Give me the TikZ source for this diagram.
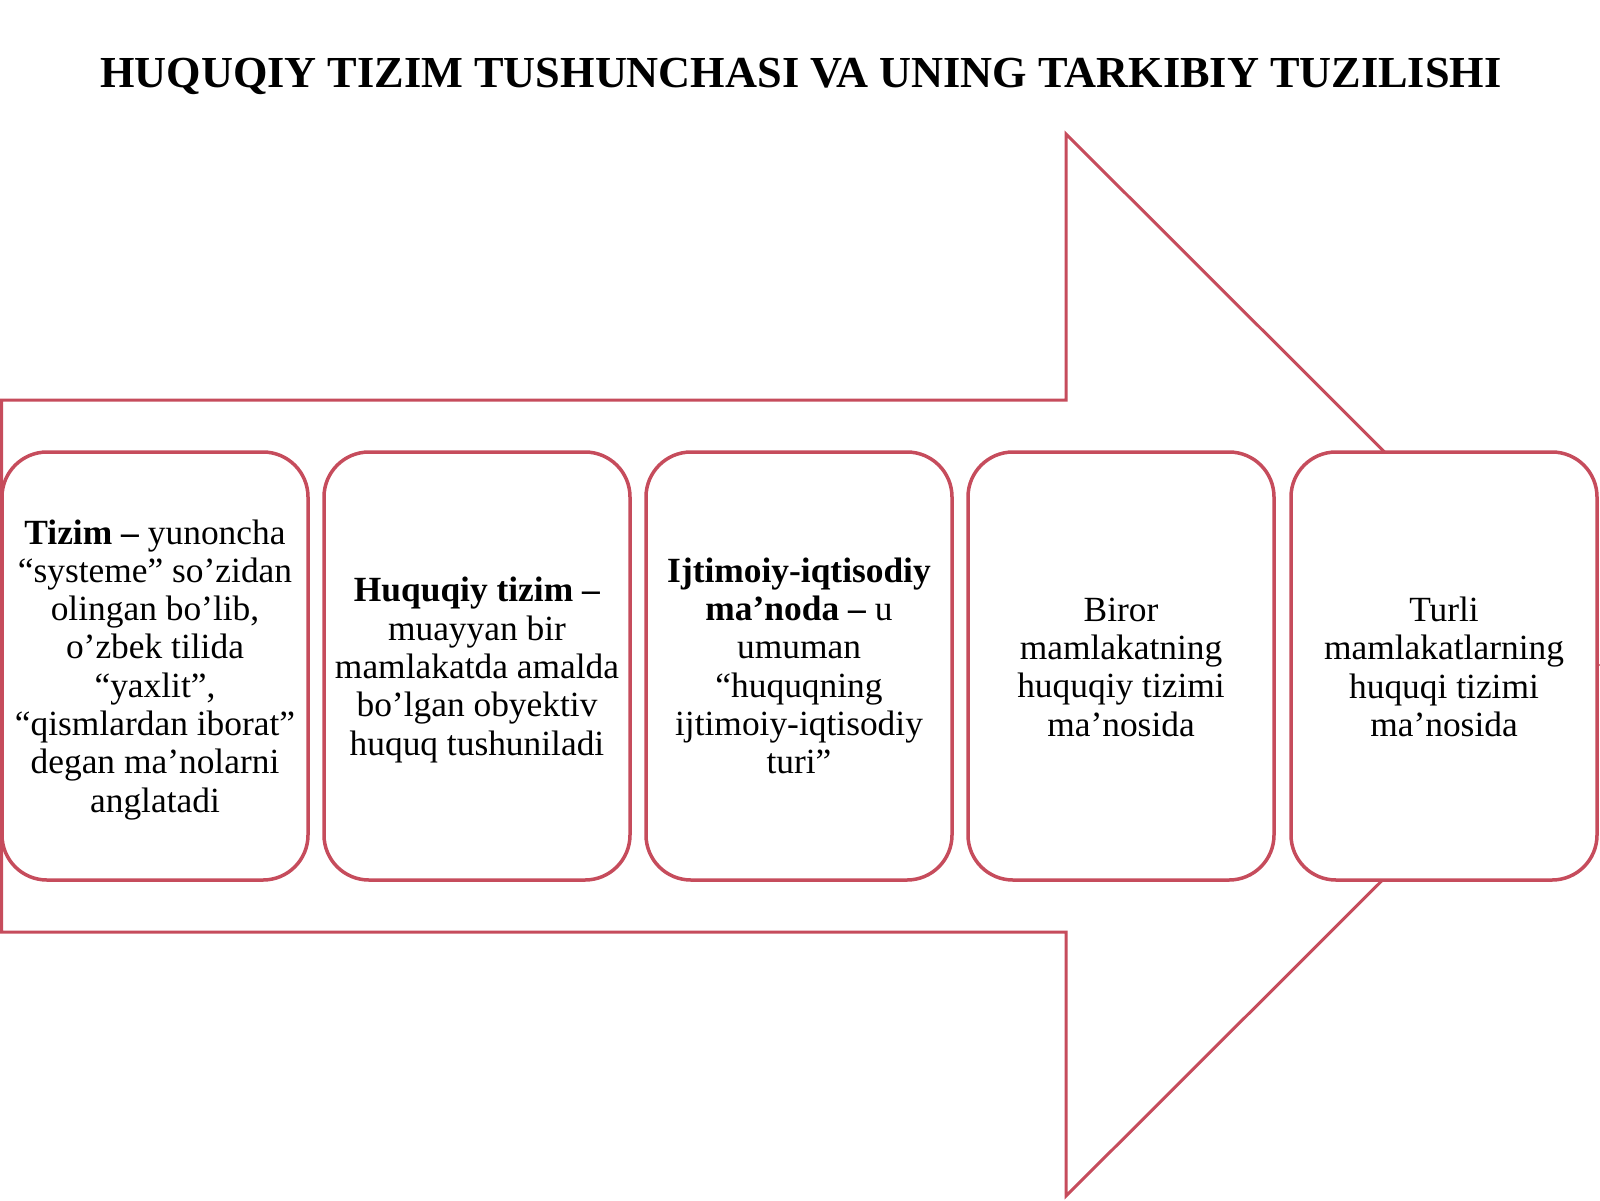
\documentclass[tikz,border=0pt]{standalone}
\usepackage{fontspec}
\setmainfont{Liberation Serif}
\definecolor{arrowred}{RGB}{198,76,92}
\tikzset{
  box/.style={draw=arrowred, line width=3.5pt, fill=white, rounded corners=45pt,
    minimum width=306pt, minimum height=428pt, inner sep=0pt},
  boxtext/.style={align=center, font=\fontsize{35.4}{38.3}\selectfont},
  arrowline/.style={draw=arrowred, line width=3pt, line join=miter}
}
\begin{document}
\begin{tikzpicture}[x=1pt,y=-1pt]
\useasboundingbox (0,0) rectangle (1600,1200);
\fill[white] (0,0) rectangle (1600,1200);
\node[anchor=base, font=\fontsize{44.3}{50}\selectfont\bfseries] (title) at (801,87) {HUQUQIY TIZIM TUSHUNCHASI VA UNING TARKIBIY TUZILISHI};
\coordinate (a1) at (1.5,400);
\coordinate (a2) at (1066,400);
\coordinate (a3) at (1066,134);
\coordinate (a4) at (1598,665);
\coordinate (a5) at (1066,1196);
\coordinate (a6) at (1066,932);
\coordinate (a7) at (1.5,932);
\draw[arrowline] (a1) -- (a2) -- (a3) -- (a4) -- (a5) -- (a6) -- (a7) -- cycle;
\node[box] (b1) at (155,666) {};
\node[box] (b2) at (477,666) {};
\node[box] (b3) at (799,666) {};
\node[box] (b4) at (1121,666) {};
\node[box] (b5) at (1444,666) {};
\node[boxtext] (t1) at ([yshift=-3.6pt]b1.center) {\textbf{Tizim –} yunoncha\\“systeme” so’zidan\\olingan bo’lib,\\o’zbek tilida\\“yaxlit”,\\“qismlardan iborat”\\degan ma’nolarni\\anglatadi};
\node[boxtext] (t2) at ([yshift=-4pt]b2.center) {\textbf{Huquqiy tizim –}\\muayyan bir\\mamlakatda amalda\\bo’lgan obyektiv\\huquq tushuniladi};
\node[boxtext] (t3) at (b3.center) {\textbf{Ijtimoiy-iqtisodiy}\\\textbf{ma’noda –} u\\umuman\\“huquqning\\ijtimoiy-iqtisodiy\\turi”};
\node[boxtext] (t4) at ([yshift=-1pt]b4.center) {Biror\\mamlakatning\\huquqiy tizimi\\ma’nosida};
\node[boxtext] (t5) at ([yshift=-1pt]b5.center) {Turli\\mamlakatlarning\\huquqi tizimi\\ma’nosida};
\end{tikzpicture}
\end{document}
